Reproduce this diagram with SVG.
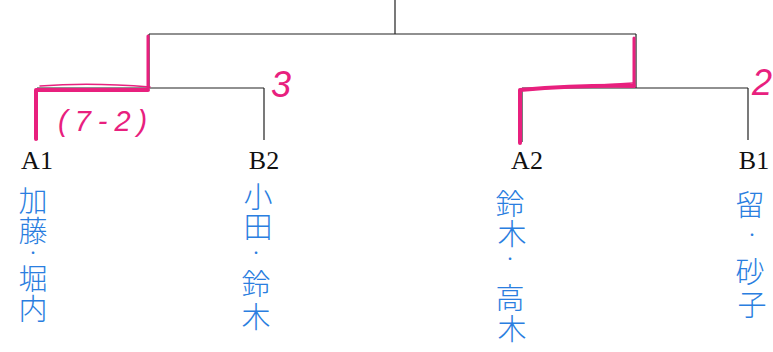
<svg xmlns="http://www.w3.org/2000/svg" width="773" height="352" viewBox="0 0 773 352">
<style>
.ln{stroke:#222;stroke-width:1.2;fill:none}
.pk{stroke:#e8207e;fill:none;stroke-linecap:round;stroke-linejoin:round}
.lbl{font-family:"Liberation Serif",serif;font-size:26px;fill:#111;text-anchor:middle}
.nm{font-family:"Noto Sans CJK JP",sans-serif;font-size:29px;fill:#2a7ee0;text-anchor:middle;font-weight:300}
.dot{font-family:"Noto Sans CJK JP",sans-serif;font-size:12px;fill:#2a7ee0;text-anchor:middle}
.ann{font-family:"Liberation Sans",sans-serif;fill:#e8207e;font-style:italic}
</style>
<rect width="773" height="352" fill="#ffffff"/>
<g id="connectors">
<path class="ln" d="M395 0V34M149 34H636M149 34V88M636 34V88M37 88H264M37 88V140M264 88V140M522 88H748M522 88V142M748 88V140"/>
</g>
<g id="winner-path">
<path class="pk" stroke-width="4" d="M36 139V90H148"/>
<path class="pk" stroke-width="3" d="M148 88V36"/>
<path class="pk" stroke-width="1.5" d="M40 86Q90 82 150 87"/>
<path class="pk" stroke-width="4" d="M520 143V90Q580 85 634 86"/>
<path class="pk" stroke-width="3" d="M634 86V38"/>
<path class="pk" stroke-width="1.5" d="M525 90Q580 86 633 83"/>
</g>
<g id="node-A1">
<text class="lbl" x="37" y="169">A1</text>
<text class="nm" x="33" y="212">加</text>
<text class="nm" x="33" y="242">藤</text>
<text class="dot" x="33" y="258">・</text>
<text class="nm" x="33" y="290">堀</text>
<text class="nm" x="33" y="320">内</text>
</g>
<g id="node-B2">
<text class="lbl" x="264" y="169">B2</text>
<text class="nm" x="258" y="208">小</text>
<text class="nm" x="258" y="238">田</text>
<text class="dot" x="256" y="258">・</text>
<text class="nm" x="256" y="295">鈴</text>
<text class="nm" x="256" y="328">木</text>
</g>
<g id="node-A2">
<text class="lbl" x="527" y="169">A2</text>
<text class="nm" x="510" y="215">鈴</text>
<text class="nm" x="512" y="245">木</text>
<text class="dot" x="510" y="264">・</text>
<text class="nm" x="510" y="309">高</text>
<text class="nm" x="512" y="340">木</text>
</g>
<g id="node-B1">
<text class="lbl" x="754" y="169">B1</text>
<text class="nm" x="750" y="216">留</text>
<text class="dot" x="752" y="240">・</text>
<text class="nm" x="750" y="283">砂</text>
<text class="nm" x="752" y="316">子</text>
</g>
<g id="annotations">
<text class="ann" x="271" y="97" font-size="36">3</text>
<text class="ann" x="752" y="95" font-size="36">2</text>
<text class="ann" x="58" y="131" font-size="29" letter-spacing="7">(7-2)</text>
</g>
</svg>
